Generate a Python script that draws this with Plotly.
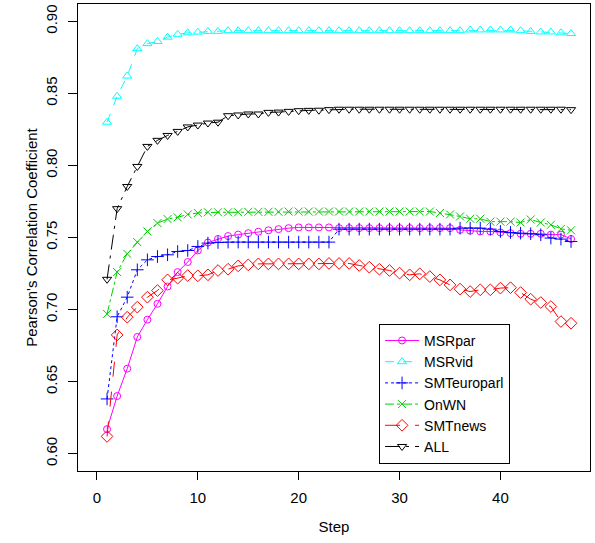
import plotly.graph_objects as go

steps = list(range(1, 48))

msrpar = [0.617, 0.640, 0.659, 0.681, 0.693, 0.704, 0.716, 0.726, 0.733, 0.741,
          0.7465, 0.749, 0.751, 0.752, 0.753, 0.754, 0.755, 0.7558, 0.7565, 0.757,
          0.757, 0.757, 0.757, 0.7565, 0.7565, 0.7565, 0.7565, 0.7565, 0.7565, 0.7565,
          0.7565, 0.7565, 0.7565, 0.7565, 0.7565, 0.7553, 0.7547, 0.7542, 0.7542, 0.7535,
          0.753, 0.7526, 0.7526, 0.7526, 0.752, 0.752, 0.749]

msrvid = [0.830, 0.848, 0.862, 0.881, 0.8845, 0.886, 0.889, 0.891, 0.892, 0.8925,
          0.893, 0.893, 0.8935, 0.8935, 0.8935, 0.8935, 0.8935, 0.8935, 0.8935, 0.8935,
          0.8935, 0.8935, 0.8935, 0.8935, 0.8935, 0.8935, 0.8935, 0.8935, 0.8935, 0.8935,
          0.8935, 0.8935, 0.8935, 0.8935, 0.8935, 0.8935, 0.894, 0.894, 0.894, 0.894,
          0.894, 0.8935, 0.893, 0.8926, 0.8926, 0.892, 0.8915]

smteuroparl = [0.638, 0.695, 0.7086, 0.7276, 0.7345, 0.7368, 0.738, 0.7403, 0.741, 0.7438,
               0.7461, 0.7465, 0.7468, 0.7468, 0.7468, 0.7468, 0.7468, 0.7468, 0.7468, 0.7468,
               0.7468, 0.7468, 0.7468, 0.7558, 0.7558, 0.7558, 0.7558, 0.7558, 0.7558, 0.7558,
               0.7558, 0.7558, 0.7558, 0.7558, 0.7558, 0.7565, 0.7565, 0.7565, 0.7558, 0.7542,
               0.7535, 0.753, 0.7526, 0.7519, 0.7496, 0.7489, 0.7472]

onwn = [0.697, 0.726, 0.7387, 0.7468, 0.7542, 0.760, 0.7628, 0.764, 0.766, 0.767,
        0.7675, 0.7675, 0.7675, 0.7675, 0.7678, 0.7678, 0.7678, 0.7678, 0.768, 0.768,
        0.768, 0.768, 0.768, 0.768, 0.768, 0.768, 0.768, 0.768, 0.768, 0.768,
        0.768, 0.768, 0.768, 0.767, 0.766, 0.7646, 0.763, 0.763, 0.761, 0.761,
        0.761, 0.7604, 0.7625, 0.7604, 0.7588, 0.756, 0.755]

smtnews = [0.612, 0.6824, 0.6947, 0.7017, 0.7086, 0.7132, 0.7206, 0.7218, 0.7236, 0.7234,
           0.7241, 0.7271, 0.728, 0.7303, 0.731, 0.7317, 0.7317, 0.7317, 0.7317, 0.7317,
           0.7317, 0.7317, 0.732, 0.732, 0.732, 0.7306, 0.7294, 0.728, 0.7271, 0.7253,
           0.7241, 0.7248, 0.7229, 0.7206, 0.7171, 0.7142, 0.7125, 0.7137, 0.7137, 0.7149,
           0.7152, 0.7118, 0.7072, 0.7049, 0.7021, 0.6917, 0.6905]

all_ = [0.721, 0.770, 0.7854, 0.7993, 0.8132, 0.8174, 0.8208, 0.8236, 0.8267, 0.828,
        0.8294, 0.830, 0.8345, 0.835, 0.8357, 0.8357, 0.8368, 0.837, 0.8375, 0.838,
        0.8382, 0.8383, 0.8387, 0.839, 0.839, 0.839, 0.839, 0.839, 0.839, 0.839,
        0.839, 0.839, 0.839, 0.839, 0.839, 0.839, 0.839, 0.839, 0.839, 0.839,
        0.839, 0.839, 0.839, 0.839, 0.839, 0.839, 0.8387]

series_names = ["MSRpar", "MSRvid", "SMTeuroparl", "OnWN", "SMTnews", "ALL"]
series_values = [msrpar, msrvid, smteuroparl, onwn, smtnews, all_]
colors = ["#FF00FF", "#00FFFF", "#0000FF", "#00CD00", "#FF0000", "#000000"]
dashes = ["solid", "dash", "dot", "dashdot", "longdash", "longdashdot"]
symbols = ["circle-open", "triangle-up-open", "cross-thin-open", "x-thin-open",
           "diamond-open", "triangle-down-open"]
sizes = [7, 8, 9, 8, 9, 8]

x_ticks = [0, 10, 20, 30, 40]
y_ticks = [0.60, 0.65, 0.70, 0.75, 0.80, 0.85, 0.90]

fig = go.Figure()
for name, vals, c, d, s, sz in zip(series_names, series_values, colors, dashes, symbols, sizes):
    fig.add_trace(go.Scatter(
        x=steps, y=vals, name=name, mode="lines+markers",
        line=dict(color=c, width=1, dash=d),
        marker=dict(symbol=s, size=sz, color=c, line=dict(color=c, width=1)),
    ))

font = "Liberation Sans, Arial, Helvetica, sans-serif"
fig.update_layout(
    template="none",
    width=595, height=543,
    margin=dict(l=78, r=5, t=4, b=72, autoexpand=False),
    paper_bgcolor="white", plot_bgcolor="white",
    font=dict(family=font, size=15, color="black"),
    showlegend=True,
    legend=dict(
        x=0.588, y=0.315, xanchor="left", yanchor="top",
        bordercolor="black", borderwidth=1, bgcolor="white",
        font=dict(family=font, size=14, color="black"),
        itemwidth=34, tracegroupgap=0,
    ),
    xaxis=dict(
        automargin=False,
        range=[-1.88, 48.88], tickmode="array", tickvals=x_ticks,
        ticks="outside", ticklen=8, tickcolor="black", tickwidth=1,
        ticklabelstandoff=5, tickfont=dict(size=15),
        showline=True, linecolor="black", linewidth=1, mirror=True,
        showgrid=False, zeroline=False,
        title=dict(text="Step", standoff=16, font=dict(size=15)),
    ),
    yaxis=dict(
        automargin=False,
        range=[0.588, 0.912], tickmode="array", tickvals=y_ticks,
        tickformat=".2f", tickangle=-90,
        ticks="outside", ticklen=9, tickcolor="black", tickwidth=1,
        ticklabelstandoff=5, tickfont=dict(size=15),
        showline=True, linecolor="black", linewidth=1, mirror=True,
        showgrid=False, zeroline=False,
        title=dict(text="Pearson's Correlation Coefficient", standoff=1, font=dict(size=15)),
    ),
)

fig.write_html("out.html", config={"displayModeBar": False},
               post_script="document.body.style.margin='0px';")
